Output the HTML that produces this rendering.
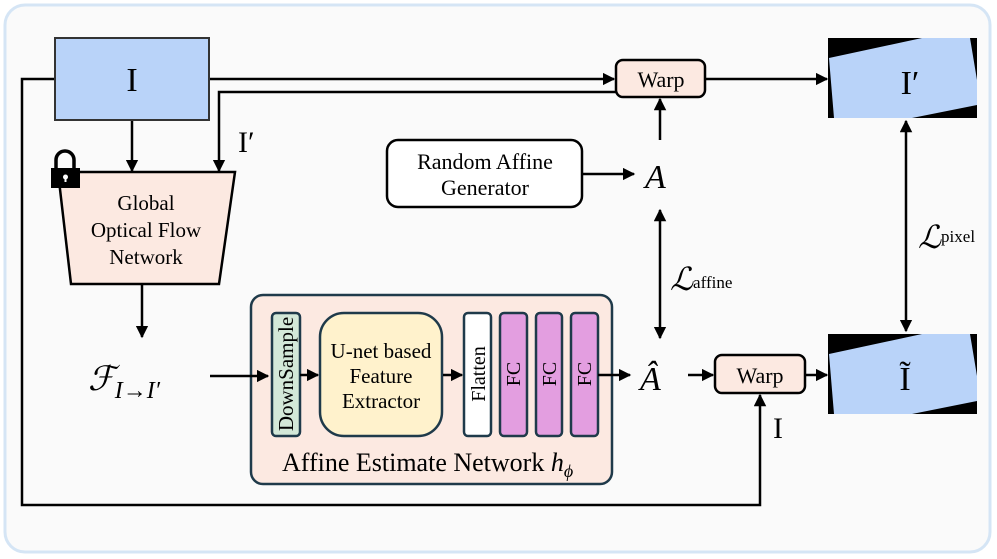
<!DOCTYPE html>
<html><head><meta charset="utf-8"><style>
body{margin:0;background:#fff;}
svg{display:block;font-family:"Liberation Serif",serif;}
</style></head><body>
<svg width="997" height="559" viewBox="0 0 997 559" xmlns="http://www.w3.org/2000/svg">
<defs>
<marker id="a" viewBox="0 0 10 10" refX="9" refY="5" markerWidth="5" markerHeight="5" orient="auto-start-reverse"><path d="M0,0L10,5L0,10z" fill="#000"/></marker>
</defs>
<rect x="5" y="5" width="985" height="547" rx="20" fill="#fafafa" stroke="#d5e5f5" stroke-width="3"/>
<g stroke="#000" stroke-width="2.5" fill="none">
<polyline points="55,79 22,79 22,505 760,505 760,395" marker-end="url(#a)"/>
<line x1="209" y1="79" x2="614" y2="79" marker-end="url(#a)"/>
<polyline points="617,92 219,92 219,171" marker-end="url(#a)"/>
<line x1="132" y1="120" x2="132" y2="171" marker-end="url(#a)"/>
<line x1="142" y1="284" x2="142" y2="337" marker-end="url(#a)"/>
<line x1="688" y1="375" x2="713" y2="375" marker-end="url(#a)"/>
<line x1="806" y1="375" x2="827" y2="375" marker-end="url(#a)"/>
<line x1="705" y1="79" x2="827" y2="79" marker-end="url(#a)"/>
<line x1="583" y1="174" x2="634" y2="174" marker-end="url(#a)"/>
<line x1="660" y1="140" x2="660" y2="99" marker-end="url(#a)"/>
<line x1="660" y1="210" x2="660" y2="338" marker-start="url(#a)" marker-end="url(#a)"/>
<line x1="906" y1="121" x2="906" y2="331" marker-start="url(#a)" marker-end="url(#a)"/>
</g>
<rect x="55" y="38" width="154" height="82" fill="#b9d3f9" stroke="#333" stroke-width="2"/>
<text x="132" y="91" font-size="34" text-anchor="middle">I</text>
<polygon points="58,172 235,172 219,284 71,284" fill="#fce9e1" stroke="#000" stroke-width="2.5"/>
<g font-size="21" text-anchor="middle"><text x="146" y="210">Global</text><text x="146" y="237">Optical Flow</text><text x="146" y="264">Network</text></g>
<path d="M56,168 v-8 a9,9 0 0 1 18,0 v8" fill="none" stroke="#000" stroke-width="3.5"/>
<rect x="51" y="168" width="29" height="20" fill="#000"/>
<circle cx="65.5" cy="177" r="2.5" fill="#fff"/><rect x="64.5" y="177" width="2" height="5" fill="#fff"/>
<text x="238" y="152" font-size="30">I′</text>
<text x="88" y="390" font-size="34" font-style="italic">ℱ<tspan font-size="24" dy="8">I→I′</tspan></text>
<rect x="251" y="295" width="361" height="189" rx="12" fill="#fce9e1" stroke="#1f3a4a" stroke-width="2.5"/>
<rect x="272" y="313" width="28" height="123" rx="4" fill="#d3e8d8" stroke="#1f3a4a" stroke-width="2.5"/>
<text transform="translate(293,374) rotate(-90)" font-size="21" text-anchor="middle">DownSample</text>
<rect x="320" y="313" width="122" height="123" rx="24" fill="#fff2cc" stroke="#1f3a4a" stroke-width="2.5"/>
<g font-size="21" text-anchor="middle"><text x="381" y="358">U-net based</text><text x="381" y="383">Feature</text><text x="381" y="408">Extractor</text></g>
<rect x="464" y="313" width="27" height="123" rx="4" fill="#fff" stroke="#1f3a4a" stroke-width="2.5"/>
<text transform="translate(485,374) rotate(-90)" font-size="20" text-anchor="middle">Flatten</text>
<g fill="#e39ee0" stroke="#1f3a4a" stroke-width="2.5">
<rect x="500" y="313" width="27" height="123" rx="4"/><rect x="536" y="313" width="26" height="123" rx="4"/><rect x="571" y="313" width="27" height="123" rx="4"/></g>
<g font-size="20" text-anchor="middle"><text transform="translate(520,374) rotate(-90)">FC</text><text transform="translate(556,374) rotate(-90)">FC</text><text transform="translate(591,374) rotate(-90)">FC</text></g>
<text x="282" y="471" font-size="26">Affine Estimate Network <tspan font-style="italic">h</tspan><tspan font-style="italic" font-size="18" dy="6">ϕ</tspan></text>
<g stroke="#000" stroke-width="2.5" fill="none">
<line x1="210" y1="376" x2="268" y2="376" marker-end="url(#a)"/>
<line x1="300" y1="375" x2="318" y2="375" marker-end="url(#a)"/>
<line x1="443" y1="375" x2="462" y2="375" marker-end="url(#a)"/>
<line x1="598" y1="375" x2="630" y2="375" marker-end="url(#a)"/>
</g>
<text x="640" y="390" font-size="34" font-style="italic">Â</text>
<rect x="616" y="60" width="89" height="37" rx="7" fill="#fce9e1" stroke="#000" stroke-width="2.5"/>
<text x="661" y="87" font-size="22" text-anchor="middle">Warp</text>
<rect x="715" y="355" width="90" height="38" rx="7" fill="#fce9e1" stroke="#000" stroke-width="2.5"/>
<text x="760" y="383" font-size="22" text-anchor="middle">Warp</text>
<rect x="387" y="140" width="195" height="67" rx="11" fill="#fff" stroke="#000" stroke-width="2.5"/>
<g font-size="22" text-anchor="middle"><text x="485" y="169">Random Affine</text><text x="485" y="195">Generator</text></g>
<text x="645" y="188" font-size="34" font-style="italic">A</text>
<text x="670" y="290" font-size="32" font-style="italic">ℒ<tspan font-size="17" font-style="normal" dy="-2">affine</tspan></text>
<text x="918" y="248" font-size="32" font-style="italic">ℒ<tspan font-size="17" font-style="normal" dy="-6">pixel</tspan></text>
<rect x="828" y="38" width="149" height="80" fill="#000"/>
<polygon points="829,58 922,38 970,38 977,80 977,105 912,118 834,118" fill="#b9d3f9"/>
<text x="910" y="94" font-size="34" text-anchor="middle">I′</text>
<rect x="828" y="334" width="149" height="80" fill="#000"/>
<polygon points="829,354 922,334 970,334 977,376 977,401 912,414 834,414" fill="#b9d3f9"/>
<text x="905" y="390" font-size="34" text-anchor="middle">Ĩ</text>
<text x="778" y="438" font-size="30" text-anchor="middle">I</text>
</svg>
</body></html>
